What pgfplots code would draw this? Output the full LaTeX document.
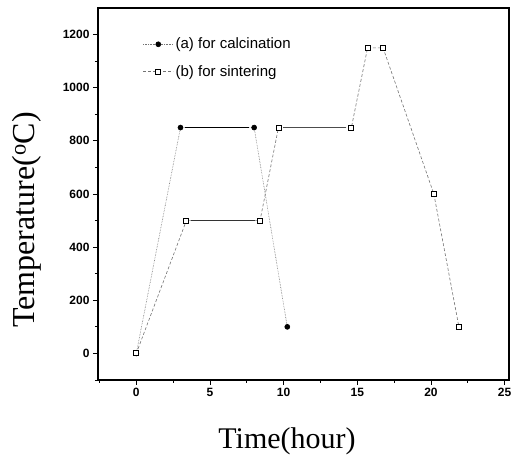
\documentclass[border=0pt]{standalone}
\usepackage{pgfplots}
\pgfplotsset{compat=1.18}
\usepackage{fontspec}
\setmainfont{Liberation Serif}
\newfontfamily\tickfont{Liberation Sans}
\begin{document}
\begin{tikzpicture}
\useasboundingbox (-98pt,-77pt) rectangle (413pt,380pt);
\begin{axis}[
  name=ax,
  at={(0,0)}, anchor=south west,
  scale only axis, width=411pt, height=372pt,
  xmin=-2.6, xmax=25.3, ymin=-100, ymax=1300,
  xtick={0,5,10,15,20,25}, ytick={0,200,400,600,800,1000,1200},
  minor xtick={-2.5,2.5,7.5,12.5,17.5,22.5},
  minor ytick={-100,100,300,500,700,900,1100},
  tick align=outside, xtick pos=bottom, ytick pos=left,
  major tick length=5pt, minor tick length=3pt,
  axis line style={line width=1.2pt},
  tick style={black, line width=0.8pt},
  /pgf/number format/assume math mode=true,
  /pgf/number format/1000 sep={},
  tick label style={font=\tickfont\bfseries\fontsize{12}{13}\selectfont},
  xlabel={Time(hour)}, ylabel={Temperature($^{\mathrm{o}}$C)},
  xlabel style={font=\fontsize{30}{32}\selectfont, at={(axis description cs:0.46,-0.183)}, anchor=base},
  ylabel style={font=\fontsize{32}{34}\selectfont, at={(axis description cs:-0.154,0.43)}, anchor=base},
  legend style={at={(rel axis cs:0.109,0.925)}, anchor=north west, draw=none, fill=none, inner sep=0pt,
    font=\tickfont\fontsize{15}{17}\selectfont, row sep=11pt},
  legend cell align=left,
  legend image code/.code={\draw[mark repeat=2,mark phase=2] plot coordinates {(0pt,0pt) (15pt,0pt) (30pt,0pt)};},
]
\addplot[black!55, densely dotted, line width=0.6pt, mark=*, mark size=2.5pt, mark options={solid, black}]
  coordinates {(0,0) (3,850) (8,850) (10.25,100)};
\addlegendentry{(a) for calcination}
\addplot[black!55, densely dashed, line width=0.6pt, mark=square*, mark size=2.5pt, mark options={solid, black, fill=white, line width=0.9pt}]
  coordinates {(0,0) (3.4,500) (8.4,500) (9.65,850) (14.6,850) (15.7,1150) (16.75,1150) (20.2,600) (21.9,100)};
\addlegendentry{(b) for sintering}
\addplot[black, line width=0.7pt, forget plot, shorten >=5pt, shorten <=5pt] coordinates {(3,850) (8,850)};
\addplot[black!80, line width=0.6pt, forget plot, shorten >=5pt, shorten <=5pt] coordinates {(3.4,500) (8.4,500)};
\addplot[black!70, line width=0.6pt, forget plot, shorten >=5pt, shorten <=5pt] coordinates {(9.65,850) (14.6,850)};
\end{axis}
\draw[black, line width=1.6pt] (ax.north west) -- (ax.north east) -- (ax.south east);
\end{tikzpicture}
\end{document}
